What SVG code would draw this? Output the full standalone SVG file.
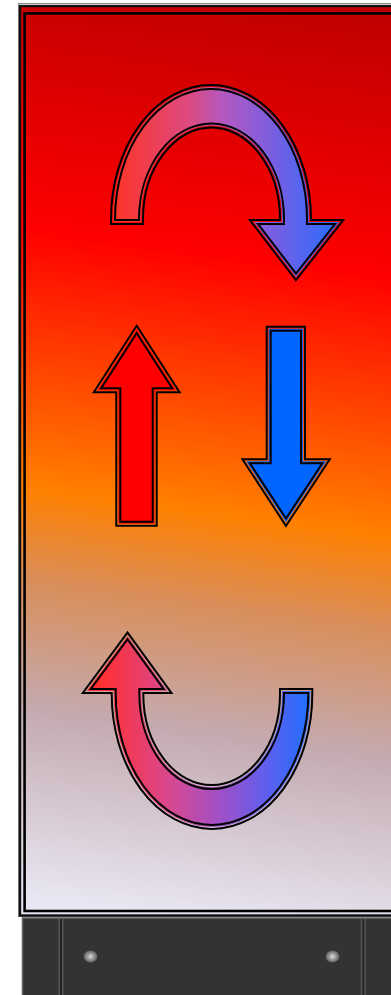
<svg xmlns="http://www.w3.org/2000/svg" width="391" height="995" viewBox="0 0 391 995">
<style>
.o1{fill:none;stroke:#000;stroke-width:12;stroke-miterlimit:10}
.o2{fill:none;stroke:url(#bg);stroke-width:8;stroke-miterlimit:10}
.o3{fill:none;stroke-width:6;stroke-miterlimit:10}
.o4{fill:none;stroke:#000;stroke-width:4;stroke-miterlimit:10}
.div{fill:#585858}
.divc{fill:#222}
</style>
<defs>
<linearGradient id="bg" gradientUnits="userSpaceOnUse" x1="260" y1="0" x2="140" y2="910">
<stop offset="0" stop-color="#c00000"/>
<stop offset="0.28" stop-color="#ff0000"/>
<stop offset="0.42" stop-color="#ff4000"/>
<stop offset="0.56" stop-color="#ff8000"/>
<stop offset="0.66" stop-color="#d98e5a"/>
<stop offset="0.8" stop-color="#c4aab0"/>
<stop offset="1" stop-color="#e8e6f2"/>
</linearGradient>
<linearGradient id="gTop" gradientUnits="userSpaceOnUse" x1="110" y1="0" x2="335" y2="0">
<stop offset="0" stop-color="#ff3322"/>
<stop offset="0.35" stop-color="#dd4a80"/>
<stop offset="0.5" stop-color="#b558c0"/>
<stop offset="0.72" stop-color="#7a5ee0"/>
<stop offset="1" stop-color="#2a6cff"/>
</linearGradient>
<linearGradient id="gBot" gradientUnits="userSpaceOnUse" x1="100" y1="0" x2="312" y2="0">
<stop offset="0" stop-color="#ff3030"/>
<stop offset="0.33" stop-color="#d84890"/>
<stop offset="0.57" stop-color="#a050c8"/>
<stop offset="0.8" stop-color="#5a60f0"/>
<stop offset="1" stop-color="#1e70ff"/>
</linearGradient>
<radialGradient id="screw" cx="0.5" cy="0.5" r="0.5">
<stop offset="0" stop-color="#dcdcdc"/>
<stop offset="0.5" stop-color="#9a9a9a"/>
<stop offset="1" stop-color="#606060"/>
</radialGradient>
<path id="pTop" d="M 116 219 A 95 129 0 0 1 306 219 L 306 225 L 333 225 L 296 272 L 260 225 L 285 225 L 285 219 A 73.5 96.5 0 0 0 138 219 Z"/>
<path id="pUp" d="M 136.7 335 L 170.4 387.3 L 151.7 387.3 L 151.7 520.7 L 121.3 520.7 L 121.3 387.3 L 103 387.3 Z"/>
<path id="pDown" d="M 271.7 331.7 L 300 331.7 L 300 464.3 L 320.5 464.3 L 286 516.7 L 251.7 464.3 L 271.7 464.3 Z"/>
<path id="pBot" d="M 307.3 694 A 95.3 130 0 0 1 116.7 694 L 116.7 688 L 92.7 688 L 127.5 641 L 161.7 688 L 138.3 688 L 138.3 694 A 73.3 96 0 0 0 285 694 Z"/>
</defs>

<g id="base">
<rect x="22.5" y="918" width="390" height="90" fill="#333" stroke="#666" stroke-width="1.6"/>
<rect class="div" x="58.5" y="918.5" width="5" height="80"/>
<rect class="divc" x="60" y="919" width="2" height="80"/>
<rect class="div" x="360.8" y="918.5" width="5" height="80"/>
<rect class="divc" x="362.3" y="919" width="2" height="80"/>
<ellipse cx="90.5" cy="956.5" rx="6.8" ry="6" fill="url(#screw)"/>
<ellipse cx="332.5" cy="956.5" rx="6.8" ry="6" fill="url(#screw)"/>
</g>

<g id="panel">
<rect x="18.5" y="3.5" width="400" height="913" fill="none" stroke="#8a8a8a" stroke-width="1"/>
<rect x="20" y="6" width="400" height="909.5" fill="url(#bg)" stroke="#111" stroke-width="2.4"/>
<rect x="24.6" y="13.4" width="400" height="897.6" fill="none" stroke="#000" stroke-width="2.6"/>
</g>

<g id="arrow-top">
<use href="#pTop" class="o1"/>
<use href="#pTop" class="o2"/>
<use href="#pTop" class="o3" stroke="url(#gTop)"/>
<use href="#pTop" class="o4"/>
<use href="#pTop" fill="url(#gTop)"/>
</g>

<g id="arrow-up">
<use href="#pUp" class="o1"/>
<use href="#pUp" class="o2"/>
<use href="#pUp" class="o3" stroke="#ff0000"/>
<use href="#pUp" class="o4"/>
<use href="#pUp" fill="#ff0000"/>
</g>

<g id="arrow-down">
<use href="#pDown" class="o1"/>
<use href="#pDown" class="o2"/>
<use href="#pDown" class="o3" stroke="#0066ff"/>
<use href="#pDown" class="o4"/>
<use href="#pDown" fill="#0066ff"/>
</g>

<g id="arrow-bottom">
<use href="#pBot" class="o1"/>
<use href="#pBot" class="o2"/>
<use href="#pBot" class="o3" stroke="url(#gBot)"/>
<use href="#pBot" class="o4"/>
<use href="#pBot" fill="url(#gBot)"/>
</g>
</svg>
